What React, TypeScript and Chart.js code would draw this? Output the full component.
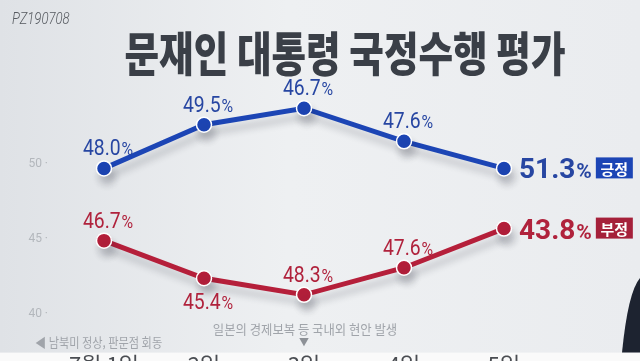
import React, { useEffect, useRef } from "react";
import { Chart, registerables } from "chart.js";

Chart.register(...registerables);

// ---- data ----
const categories = ["7월 1일", "2일", "3일", "4일", "5일"];
// plotted positions read against the drawn 40/45/50 axis
const positiveValues = [49.7, 52.6, 53.7, 51.5, 49.7];
const negativeValues = [44.9, 42.4, 41.3, 43.1, 45.7];
// printed labels on the graphic
const positiveLabels = ["48.0", "49.5", "46.7", "47.6", "51.3"];
const negativeLabels = ["46.7", "45.4", "48.3", "47.6", "43.8"];
const yTicks = [40, 45, 50];
const seriesNames = ["긍정", "부정"];
const titleText = "문재인 대통령 국정수행 평가";
const sourceCode = "PZ190708";
const noteLeft = "◀ 남북미 정상, 판문점 회동";
const noteMid = "일본의 경제보복 등 국내외 현안 발생";

const KR = '"Noto Sans CJK KR", "Noto Sans", sans-serif';
const NUM = 'Roboto, "Noto Sans", sans-serif';

const BLUE = "#1c45b5";
const BLUE_TXT = "#2746a2";
const RED = "#b51f3a";
const RED_TXT = "#b0223c";

const H = 388;

const bgPlugin = {
  id: "bg",
  beforeDraw(chart: any) {
    const { ctx, width, height } = chart;
    ctx.save();
    const g = ctx.createLinearGradient(0, 0, width, 0);
    g.addColorStop(0, "#dfe2e6");
    g.addColorStop(0.45, "#eef0f2");
    g.addColorStop(1, "#eaecef");
    ctx.fillStyle = g;
    ctx.fillRect(0, 0, width, height);
    const band = chart.chartArea.bottom + 11;
    ctx.fillStyle = "#fafafa";
    ctx.fillRect(0, band, width, height - band);
    ctx.restore();
  },
};

const shadowPlugin = {
  id: "shadow",
  beforeDatasetDraw(chart: any) {
    const ctx = chart.ctx;
    ctx.save();
    ctx.shadowColor = "rgba(40,45,60,0.22)";
    ctx.shadowBlur = 7;
    ctx.shadowOffsetX = 3;
    ctx.shadowOffsetY = 8;
  },
  afterDatasetDraw(chart: any) {
    chart.ctx.restore();
  },
};

function drawValue(
  ctx: CanvasRenderingContext2D,
  x: number,
  y: number,
  num: string,
  color: string,
  numSize: number,
  pctSize: number,
  weight: string,
  sx: number,
  align: "center" | "left"
) {
  ctx.save();
  ctx.fillStyle = color;
  ctx.textBaseline = "alphabetic";
  ctx.textAlign = "left";
  ctx.font = `${weight} ${numSize}px ${NUM}`;
  const wn = ctx.measureText(num).width;
  ctx.font = `${weight} ${pctSize}px ${NUM}`;
  const wp = ctx.measureText("%").width;
  const total = (wn + 1 + wp) * sx;
  const start = align === "center" ? x - total / 2 : x;
  ctx.translate(start, y);
  ctx.scale(sx, 1);
  ctx.font = `${weight} ${numSize}px ${NUM}`;
  ctx.fillText(num, 0, 0);
  ctx.font = `${weight} ${pctSize}px ${NUM}`;
  ctx.fillText("%", wn + 1, 0);
  ctx.restore();
  return start + total;
}

const labelPlugin = {
  id: "valueLabels",
  afterDatasetsDraw(chart: any, _a: any, opts: any) {
    const ctx = chart.ctx;
    const sets = [
      { labels: positiveLabels, color: BLUE_TXT, badge: BLUE, below: opts.positiveBelow },
      { labels: negativeLabels, color: RED_TXT, badge: "#a5203a", below: opts.negativeBelow },
    ];
    sets.forEach((s, di) => {
      const meta = chart.getDatasetMeta(di);
      meta.data.forEach((pt: any, i: number) => {
        const last = i === meta.data.length - 1;
        if (!last) {
          const y = s.below[i] ? pt.y + 31 : pt.y - 13;
          drawValue(ctx, pt.x + 4, y, s.labels[i], s.color, 22, 18, "400", 0.88, "center");
        } else {
          const end = drawValue(ctx, pt.x + 15, pt.y + 10, s.labels[i], s.color, 28, 21, "700", 1, "left");
          const bx = end + 4;
          const bw = 37;
          const bh = 21;
          ctx.save();
          ctx.fillStyle = s.badge;
          ctx.fillRect(bx, pt.y - bh / 2 - 0.5, bw, bh);
          ctx.fillStyle = "#ffffff";
          ctx.font = `700 15px ${KR}`;
          ctx.textAlign = "center";
          ctx.textBaseline = "middle";
          ctx.fillText(seriesNames[di], bx + bw / 2, pt.y + 0.5);
          ctx.restore();
        }
      });
    });
  },
};

const decorPlugin = {
  id: "decor",
  afterDraw(chart: any) {
    const { ctx, width } = chart;
    const xs = chart.scales.x;
    const band = chart.chartArea.bottom + 11;
    ctx.save();
    // title (condensed heavy)
    ctx.save();
    ctx.fillStyle = "#3a3f47";
    ctx.font = `900 47px ${KR}`;
    ctx.textAlign = "center";
    ctx.textBaseline = "middle";
    ctx.translate(345, 53);
    ctx.scale(0.8, 1);
    ctx.fillText(titleText, 0, 0);
    ctx.restore();

    // source code top-left
    ctx.save();
    ctx.fillStyle = "#55595f";
    ctx.font = `italic 300 16px ${NUM}`;
    ctx.textBaseline = "alphabetic";
    ctx.textAlign = "left";
    ctx.translate(12, 24);
    ctx.scale(0.82, 1);
    ctx.fillText(sourceCode, 0, 0);
    ctx.restore();

    // annotations
    ctx.fillStyle = "#a0a4aa";
    ctx.font = `400 13px ${KR}`;
    const midX = xs.getPixelForValue(2);
    ctx.save();
    ctx.translate(midX + 1, 334);
    ctx.scale(0.95, 1);
    ctx.textAlign = "center";
    ctx.fillText(noteMid, 0, 0);
    ctx.restore();

    ctx.save();
    ctx.translate(xs.getPixelForValue(0) - 69, 347);
    ctx.scale(0.86, 1);
    ctx.textAlign = "left";
    ctx.fillText(noteLeft, 0, 0);
    ctx.restore();

    ctx.fillStyle = "#8d9197";
    ctx.font = `400 10px ${KR}`;
    ctx.textAlign = "center";
    ctx.fillText("▼", midX, 346);

    // dark figure at right edge
    ctx.fillStyle = "#1d2330";
    ctx.beginPath();
    ctx.moveTo(width, 278);
    ctx.quadraticCurveTo(width - 12, 292, width - 18, band);
    ctx.lineTo(width, band);
    ctx.closePath();
    ctx.fill();
    ctx.restore();
  },
};

export default function App() {
  const ref = useRef<HTMLCanvasElement | null>(null);

  useEffect(() => {
    if (!ref.current) return;
    const chart = new Chart(ref.current, {
      type: "line",
      data: {
        labels: categories,
        datasets: [
          {
            label: seriesNames[0],
            data: positiveValues,
            borderColor: BLUE,
            backgroundColor: BLUE,
            borderWidth: 5,
            pointRadius: 7.5,
            pointBorderColor: "#ffffff",
            pointBorderWidth: 1.5,
            pointBackgroundColor: BLUE,
            tension: 0,
            clip: false as any,
          },
          {
            label: seriesNames[1],
            data: negativeValues,
            borderColor: RED,
            backgroundColor: RED,
            borderWidth: 5,
            pointRadius: 7.5,
            pointBorderColor: "#ffffff",
            pointBorderWidth: 1.5,
            pointBackgroundColor: RED,
            tension: 0,
            clip: false as any,
          },
        ],
      },
      options: {
        responsive: false,
        animation: false,
        layout: { padding: { left: 0, right: 86, top: 73.6, bottom: 0 } },
        plugins: {
          legend: { display: false },
          tooltip: { enabled: false },
          title: { display: false },
          valueLabels: {
            positiveBelow: [false, false, false, false, false],
            negativeBelow: [false, true, false, false, false],
          },
        } as any,
        scales: {
          x: {
            type: "category",
            offset: true,
            grid: { display: false, drawTicks: false },
            border: { display: false },
            ticks: {
              color: "#4a4d52",
              font: { family: KR, size: 22 },
              padding: 10,
              maxRotation: 0,
            },
          },
          y: {
            min: 38.19,
            max: 56,
            grid: { display: false, drawTicks: false },
            border: { display: false },
            afterBuildTicks: (axis: any) => {
              axis.ticks = yTicks.map((v) => ({ value: v }));
            },
            afterFit: (axis: any) => {
              axis.width = 54;
            },
            ticks: {
              color: "#b3b7bc",
              font: { family: NUM, size: 12 },
              padding: 6,
              callback: (v: any) => `${v} ·`,
            },
          },
        },
      },
      plugins: [bgPlugin, shadowPlugin, labelPlugin, decorPlugin],
    });
    return () => chart.destroy();
  }, []);

  return (
    <div style={{ position: "fixed", left: 0, top: 0, width: 640, height: H }}>
      <canvas ref={ref} width={640} height={H} style={{ width: 640, height: H, display: "block" }} />
    </div>
  );
}
